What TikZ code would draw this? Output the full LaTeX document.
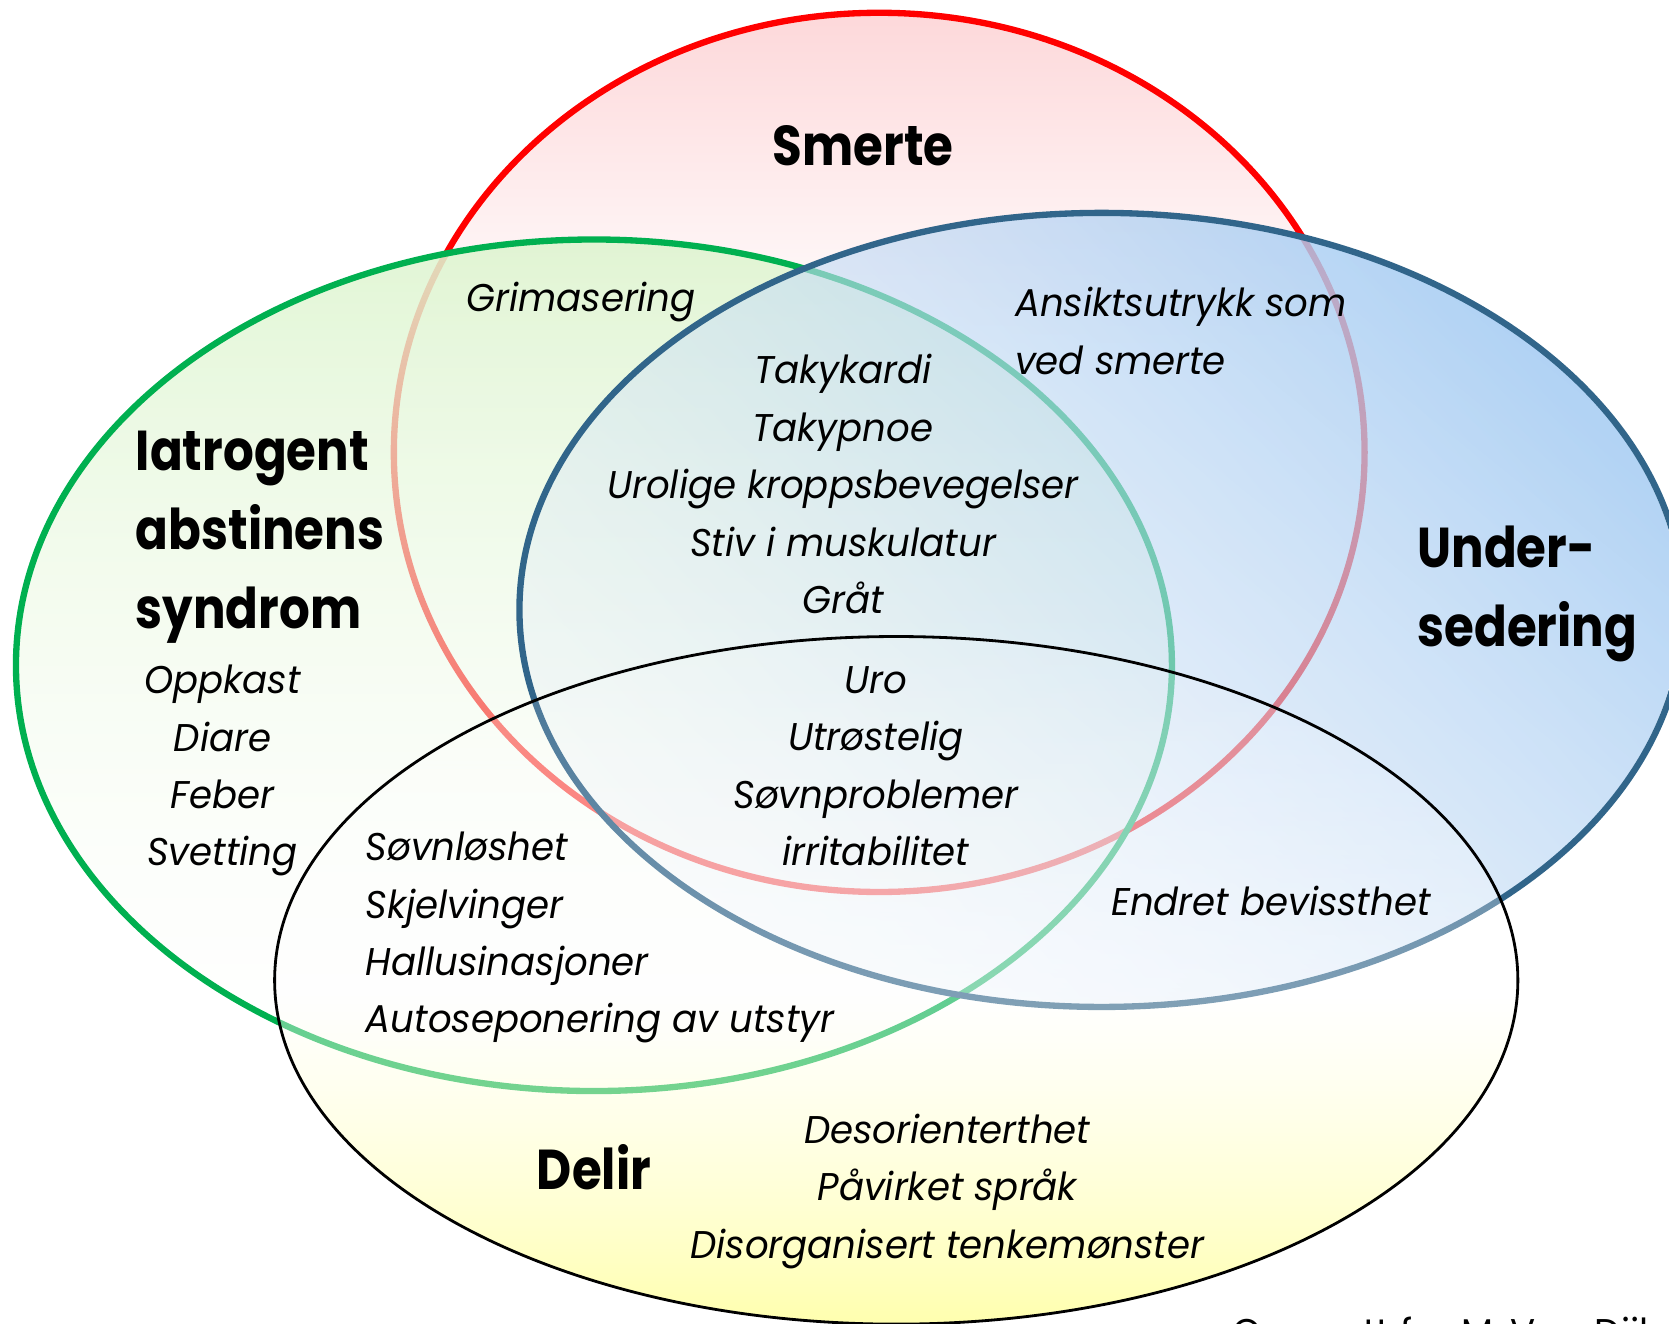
\documentclass[tikz,border=0pt]{standalone}
\usepackage{fontspec}
\setmainfont{Poppins}
\newfontfamily\itemfont{Poppins}[FakeStretch=0.96]
\newfontfamily\headfont{Poppins}[FakeStretch=0.86]
\usetikzlibrary{fadings}

\definecolor{smerteline}{RGB}{255,0,0}
\definecolor{smertefill}{RGB}{253,216,218}
\definecolor{iatroline}{RGB}{0,176,80}
\definecolor{iatrofill}{RGB}{222,245,208}
\definecolor{underline}{RGB}{49,101,138}
\definecolor{underfill}{RGB}{166,204,242}
\definecolor{underfillb}{RGB}{228,236,248}
\definecolor{delirfill}{RGB}{255,255,130}

\pgfdeclareverticalshading{smerteshade}{100bp}{color(0bp)=(white); color(25bp)=(white);
  color(56bp)=(white); color(75bp)=(smertefill); color(100bp)=(smertefill)}
\pgfdeclareverticalshading{delirshade}{100bp}{color(0bp)=(delirfill); color(25bp)=(delirfill);
  color(49bp)=(white); color(100bp)=(white)}

\tikzfading[name=iatrofade, top color=transparent!10, bottom color=transparent!85]
\tikzfading[name=underfade, top color=transparent!12, bottom color=transparent!75]
\tikzfading[name=delirfade, top color=transparent!92, bottom color=transparent!35]

\begin{document}
\begin{tikzpicture}[
x=0.010644cm, y=-0.010644cm,
ring/.style={line width=1.8pt},
txt/.style={font=\fontsize{11}{16.35}\selectfont\itemfont\itshape, align=center, inner sep=0pt},
txtl/.style={txt, align=left, anchor=west},
head/.style={font=\fontsize{16}{22.5}\selectfont\headfont\bfseries, align=left, inner sep=0pt}
]
\useasboundingbox (0,0) rectangle (1568,1243);

% Smerte
\shade[shading=smerteshade] (826,425) ellipse [x radius=456, y radius=413];
\draw[ring, smerteline] (826,425) ellipse [x radius=456, y radius=413];

% Iatrogent abstinenssyndrom
\shade[top color=iatrofill, bottom color=white, path fading=iatrofade]
  (558,625) ellipse [x radius=543, y radius=400];
\draw[ring, iatroline] (558,625) ellipse [x radius=543, y radius=400];

% Undersedering
\shade[top color=underfill, bottom color=underfillb, shading angle=-50,
  path fading=underfade, fading angle=-50]
  (1035,573) ellipse [x radius=547, y radius=373];
\draw[ring, underline] (1035,573) ellipse [x radius=547, y radius=373];

% Delir
\shade[shading=delirshade, path fading=delirfade]
  (842,921) ellipse [x radius=584, y radius=323];
\draw[line width=0.8pt] (842,921) ellipse [x radius=584, y radius=323];

% titles
\node[head] (smerte) at (811,137) {Smerte};
\node[head, anchor=west] (iatro) at (127,505) {Iatrogent\\abstinens\\syndrom};
\node[head, anchor=west] (under) at (1331,558) {Under-\\sedering};
\node[head] (delir) at (558,1097) {Delir};

% symptoms
\node[txt] (grim) at (546,284) {Grimasering};
\node[txtl] (ansikt) at (953,311) {Ansiktsutrykk som\\ved smerte};
\node[txt] (felles) at (792,455)
  {Takykardi\\Takypnoe\\Urolige kroppsbevegelser\\Stiv i muskulatur\\Gråt};
\node[txt] (uro) at (823,720)
  {Uro\\Utrøstelig\\Søvnproblemer\\irritabilitet};
\node[txt] (oppkast) at (209,724) {Oppkast\\Diare\\Feber\\Svetting};
\node[txtl] (sovn) at (343,881)
  {Søvnløshet\\Skjelvinger\\Hallusinasjoner\\Autoseponering av utstyr};
\node[txt] (endret) at (1194,846) {Endret bevissthet};
\node[txt] (desor) at (890,1119)
  {Desorienterthet\\Påvirket språk\\Disorganisert tenkemønster};

\node[font=\fontsize{11}{13}\selectfont\itemfont, anchor=west, inner sep=0pt] (kilde) at (1157,1256)
  {Oversatt fra M. Van Dijk};

\end{tikzpicture}
\end{document}
